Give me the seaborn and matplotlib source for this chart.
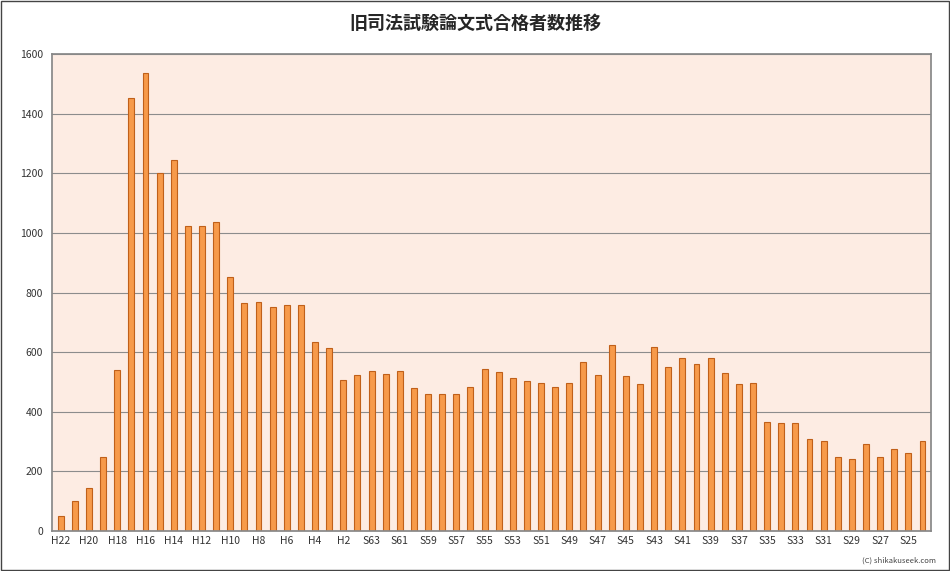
import matplotlib
matplotlib.use("Agg")
import matplotlib.pyplot as plt
import seaborn as sns
import pandas as pd

# era labels, newest first (H22 -> S24)
heisei = [f"H{i}" for i in range(22, 0, -1)]
showa = [f"S{i}" for i in range(63, 23, -1)]
years = heisei + showa

passed = [52, 100, 143, 249, 542, 1454, 1536, 1201, 1244, 1024, 1025, 1038,
          853, 764, 767, 752, 757, 757, 634, 615, 506, 523,
          536, 526, 538, 481, 459, 459, 461, 485, 545, 534,
          514, 502, 497, 482, 496, 567, 523, 624, 519, 495,
          617, 551, 581, 562, 579, 530, 495, 497, 366, 361,
          362, 308, 302, 249, 242, 293, 249, 275, 261, 302]

df = pd.DataFrame({"year": years, "passed": passed})

sns.set_theme(style="white")
plt.rcParams["font.family"] = ["Noto Sans CJK JP", "DejaVu Sans"]

fig = plt.figure(figsize=(9.5, 5.71), dpi=100)
ax = fig.add_axes([0.055, 0.07, 0.925, 0.835])
ax.set_facecolor("#fdece3")

sns.barplot(data=df, x="year", y="passed", ax=ax, color="#f79a4a",
            edgecolor="#c0601a", linewidth=0.8, width=0.42, saturation=1)

ax.set_ylim(0, 1600)
ax.set_yticks(range(0, 1601, 200))
ax.yaxis.grid(True, color="#8c8c8c", linewidth=0.8)
ax.set_axisbelow(True)
ax.set_xlim(-0.6, len(years) - 0.4)
ax.set_xticks(range(0, len(years), 2))
ax.set_xticklabels(years[::2])
ax.tick_params(axis="both", labelsize=7.5, length=3, colors="#333333")
ax.tick_params(axis="x", length=0)
ax.set_xlabel("")
ax.set_ylabel("")
for s in ax.spines.values():
    s.set_color("#888888")

fig.suptitle("旧司法試験論文式合格者数推移", y=0.975, fontsize=13, fontweight="bold")
fig.text(0.985, 0.012, "(C) shikakuseek.com", ha="right", va="bottom", fontsize=5.5, color="#444444")
fig.patches.append(plt.Rectangle((0.001, 0.001), 0.998, 0.998, transform=fig.transFigure,
                                 fill=False, edgecolor="#444444", linewidth=1))

fig.savefig("out.png", dpi=100)
